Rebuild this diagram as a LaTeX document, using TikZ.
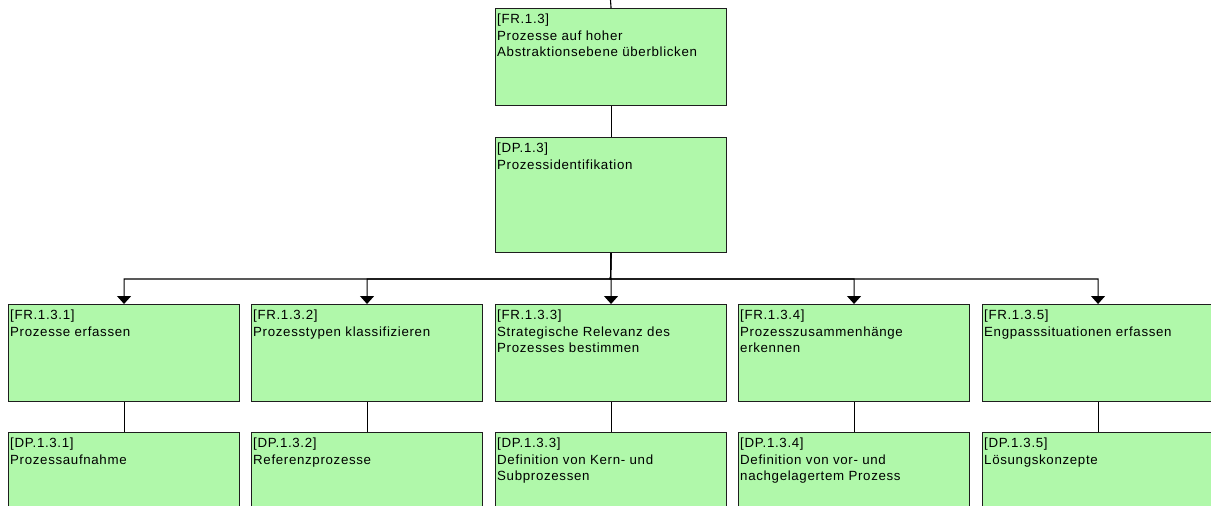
\documentclass[tikz,border=0pt]{standalone}
\usepackage{fontspec}
\setmainfont{Liberation Sans}[LetterSpace=5]
\usetikzlibrary{arrows.meta,calc}
\definecolor{boxfill}{RGB}{176,248,170}
\definecolor{boxline}{RGB}{30,30,30}
\tikzset{
  box/.style={draw=boxline, fill=boxfill, line width=1.1pt, minimum width=231pt, inner sep=0pt, rectangle},
  txt/.style={font=\fontsize{13.3}{16.3}\selectfont, align=left, inner sep=0pt, text=black},
  conn/.style={draw=black, line width=1.1pt},
  arr/.style={conn, -{Triangle[width=14pt,length=8pt]}}
}
\newcommand{\bx}[5]{%
  \node[box, minimum height=#4pt, anchor=north west] (#1) at (#2,#3) {};
  \node[txt, anchor=north west] (#1t) at ($(#1.north west)+(2,6)$) {#5};
}
\begin{document}
\begin{tikzpicture}[x=1pt,y=-1pt]
\path[use as bounding box, clip] (0,0) rectangle (1211,506);
\fill[white] (0,0) rectangle (1211,506);
\bx{FR13}{495}{8}{97}{[FR.1.3]\\Prozesse auf hoher\\Abstraktionsebene überblicken}
\bx{DP13}{495}{137}{115}{[DP.1.3]\\Prozessidentifikation}
\bx{FRa}{8}{304}{97}{[FR.1.3.1]\\Prozesse erfassen}
\bx{FRb}{251}{304}{97}{[FR.1.3.2]\\Prozesstypen klassifizieren}
\bx{FRc}{495}{304}{97}{[FR.1.3.3]\\Strategische Relevanz des\\Prozesses bestimmen}
\bx{FRd}{738}{304}{97}{[FR.1.3.4]\\Prozesszusammenhänge\\erkennen}
\bx{FRe}{982}{304}{97}{[FR.1.3.5]\\Engpasssituationen erfassen}
\bx{DPa}{8}{432}{100}{[DP.1.3.1]\\Prozessaufnahme}
\bx{DPb}{251}{432}{100}{[DP.1.3.2]\\Referenzprozesse}
\bx{DPc}{495}{432}{100}{[DP.1.3.3]\\Definition von Kern- und\\Subprozessen}
\bx{DPd}{738}{432}{100}{[DP.1.3.4]\\Definition von vor- und\\nachgelagertem Prozess}
\bx{DPe}{982}{432}{100}{[DP.1.3.5]\\Lösungskonzepte}
\coordinate (topend) at (610.5,0);
\coordinate (bus) at (610.5,279);
\draw[conn] (topend) -- (FR13.north);
\draw[conn] (FR13.south) -- (DP13.north);
\foreach \n in {FRa,FRb,FRc,FRd,FRe}{
  \draw[arr] (DP13.south) -- (bus) -| (\n.north);
}
\foreach \a/\b in {FRa/DPa,FRb/DPb,FRc/DPc,FRd/DPd,FRe/DPe}{
  \draw[conn] (\a.south) -- (\b.north);
}
\end{tikzpicture}
\end{document}
